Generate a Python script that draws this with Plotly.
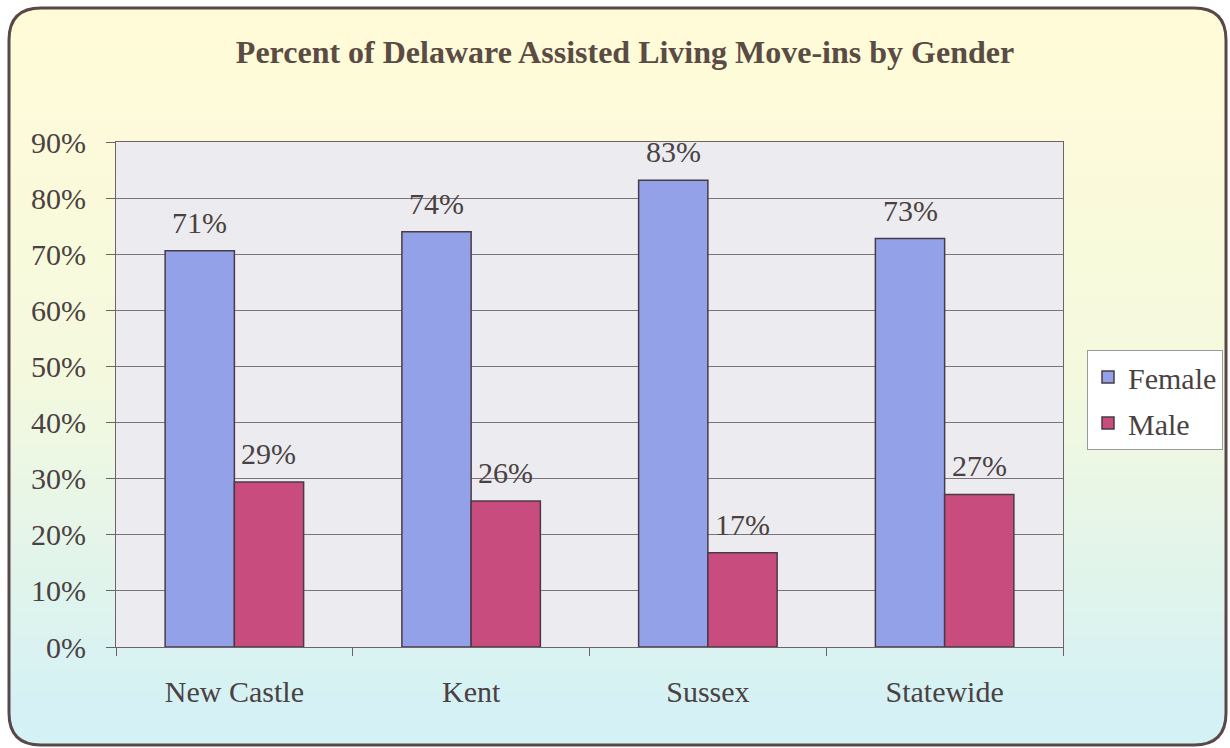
import plotly.graph_objects as go

categories = ["New Castle", "Kent", "Sussex", "Statewide"]
female = [70.6, 74.0, 83.2, 72.8]
male = [29.4, 26.0, 16.8, 27.2]
female_labels = ["71%", "74%", "83%", "73%"]
male_labels = ["29%", "26%", "17%", "27%"]
y_ticks = [0, 10, 20, 30, 40, 50, 60, 70, 80, 90]
y_tick_labels = ["0%", "10%", "20%", "30%", "40%", "50%", "60%", "70%", "80%", "90%"]

W, H = 1230, 748
FONT = "Liberation Serif, Times New Roman, serif"
TXT = "#4a4242"


def px(x):
    return x / W


def py(y):
    return 1 - y / H


def lerp(c1, c2, t):
    return "rgb(%d,%d,%d)" % tuple(round(a + (b - a) * t) for a, b in zip(c1, c2))


top_c = (255, 251, 216)
mid_c = (244, 249, 222)
bot_c = (212, 241, 245)

shapes = []
L, R, T, B, r = 9, 1226, 8, 745, 32


def rounded(l, t, rr, b, rad, top=True, bottom=True):
    p = []
    if top:
        p.append(f"M {px(l)},{py(t + rad)} Q {px(l)},{py(t)} {px(l + rad)},{py(t)} L {px(rr - rad)},{py(t)} Q {px(rr)},{py(t)} {px(rr)},{py(t + rad)}")
    else:
        p.append(f"M {px(l)},{py(t)} L {px(rr)},{py(t)}")
    if bottom:
        p.append(f"L {px(rr)},{py(b - rad)} Q {px(rr)},{py(b)} {px(rr - rad)},{py(b)} L {px(l + rad)},{py(b)} Q {px(l)},{py(b)} {px(l)},{py(b - rad)} Z")
    else:
        p.append(f"L {px(rr)},{py(b)} L {px(l)},{py(b)} Z")
    return " ".join(p)


shapes.append(dict(type="path", xref="paper", yref="paper", layer="below",
                   path=rounded(L, T, R, T + r + 2, r, True, False),
                   fillcolor=lerp(top_c, top_c, 0), line=dict(width=0)))
shapes.append(dict(type="path", xref="paper", yref="paper", layer="below",
                   path=rounded(L, B - r - 2, R, B, r, False, True),
                   fillcolor=lerp(bot_c, bot_c, 0), line=dict(width=0)))
n = 60
y0, y1 = T + r, B - r
for i in range(n):
    ya = y0 + (y1 - y0) * i / n
    yb = y0 + (y1 - y0) * (i + 1) / n + 0.8
    t = (i + 0.5) / n
    c = lerp(top_c, mid_c, t * 2) if t < 0.5 else lerp(mid_c, bot_c, (t - 0.5) * 2)
    shapes.append(dict(type="rect", xref="paper", yref="paper", layer="below",
                       x0=px(L), x1=px(R), y0=py(yb), y1=py(ya),
                       fillcolor=c, line=dict(width=0)))
shapes.append(dict(type="path", xref="paper", yref="paper", layer="above",
                   path=rounded(L, T, R, B, r), fillcolor="rgba(0,0,0,0)",
                   line=dict(color="#5a4848", width=3)))
shapes.append(dict(type="rect", xref="paper", yref="paper", layer="below",
                   x0=px(116), x1=px(1063), y0=py(647), y1=py(142),
                   fillcolor="#ECECF0", line=dict(width=0)))

fig = go.Figure()
fig.add_trace(go.Bar(name="Female", x=categories, y=female, legendgroup="f",
                     marker=dict(color="#93A2E8", line=dict(color="#4a3a48", width=1.5))))
fig.add_trace(go.Bar(name="Male", x=categories, y=male, legendgroup="m",
                     marker=dict(color="#C84C7E", line=dict(color="#4a3a48", width=1.5))))

annotations = []
for vals, labs, shift in ((female, female_labels, -34.5), (male, male_labels, 34.5)):
    for cat, v, lab in zip(categories, vals, labs):
        annotations.append(dict(x=cat, y=v, xref="x", yref="y", text=lab,
                                showarrow=False, xanchor="center", yanchor="bottom",
                                xshift=shift, yshift=10,
                                font=dict(family=FONT, size=30, color=TXT)))

fig.update_layout(
    width=W, height=H,
    margin=dict(l=0, r=0, t=0, b=0),
    paper_bgcolor="white",
    plot_bgcolor="rgba(0,0,0,0)",
    barmode="group", bargap=0.415, bargroupgap=0,
    shapes=shapes,
    annotations=annotations,
    font=dict(family=FONT, color=TXT),
    title=dict(text="<b>Percent of Delaware Assisted Living Move-ins by Gender</b>",
               x=px(625), xanchor="center", y=py(52), yanchor="middle",
               font=dict(family=FONT, size=32, color="#5a4c44")),
    legend=dict(x=px(1087), xanchor="left", y=py(350), yanchor="top",
                bgcolor="white", bordercolor="#9a9a9a", borderwidth=1,
                font=dict(family=FONT, size=30, color=TXT),
                itemwidth=30, tracegroupgap=4),
)
fig.update_xaxes(domain=[px(116), px(1063)], showline=True, linecolor="#6e6466",
                 linewidth=1, mirror=True, ticks="outside", tickson="boundaries",
                 ticklen=8, tickcolor="#6e6466", showgrid=False,
                 ticklabelstandoff=18,
                 tickfont=dict(family=FONT, size=30, color=TXT), automargin=False)
fig.update_yaxes(domain=[py(647), py(142)], range=[0, 90], tickvals=y_ticks,
                 ticktext=y_tick_labels, showline=True, linecolor="#6e6466",
                 linewidth=1, mirror=True, ticks="outside", ticklen=9,
                 ticklabelstandoff=14,
                 tickcolor="#6e6466", showgrid=True, gridcolor="#7a7476",
                 gridwidth=1, zeroline=False,
                 tickfont=dict(family=FONT, size=30, color=TXT), automargin=False)

fig.write_html("out.html", config={"displayModeBar": False},
               post_script="document.body.style.margin='0';")
